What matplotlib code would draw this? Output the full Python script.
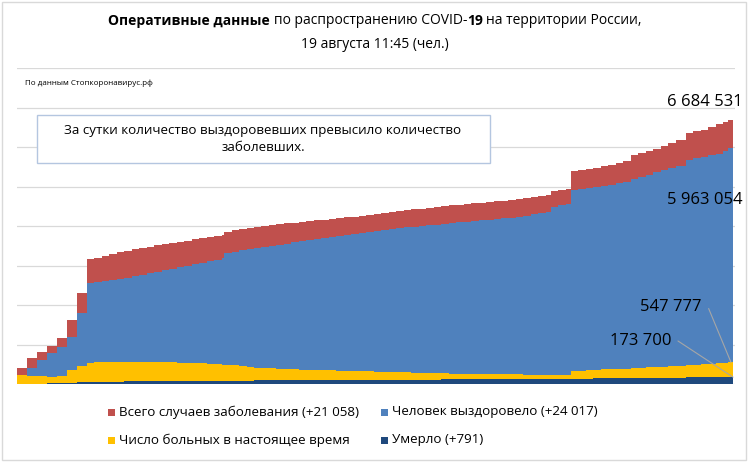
import matplotlib
matplotlib.use('Agg')
import matplotlib.pyplot as plt
from matplotlib.patches import Rectangle
import numpy as np

plt.rcParams['font.family'] = ['Open Sans', 'DejaVu Sans']

# ---------------- data (thousands of people) ----------------
days = [0, 4, 8, 12, 16, 20, 24,
        28, 31, 34, 37, 40, 43, 46, 49, 52, 55, 58, 61, 64, 67, 70, 73, 76, 79, 82,
        83, 86, 89, 92, 95, 98, 101, 104, 107, 110,
        113, 116, 119, 122, 125, 128, 131, 134, 137, 140,
        143, 146, 149, 152, 155, 158, 161, 164, 167, 170,
        173, 176, 179, 182, 185, 188, 191, 194, 197, 200,
        203, 206, 209, 212,
        214, 217, 220, 222, 225, 228, 231, 234, 237, 240, 243, 246, 249, 252,
        255, 258, 261, 264, 268, 271, 274, 277, 280, 283, 285]
end_day = 287

total = [400, 650, 820, 970, 1170, 1620, 2300,
         3160, 3200, 3250, 3290, 3330, 3370, 3410, 3445, 3480, 3510, 3540, 3565,
         3590, 3625, 3660, 3690, 3720, 3750, 3770,
         3860, 3890, 3935, 3960, 3985, 4005, 4025, 4045, 4065, 4085,
         4100, 4120, 4140, 4160, 4180, 4200, 4220, 4240, 4265, 4290,
         4315, 4340, 4360, 4385, 4400, 4420, 4440, 4460, 4480, 4500,
         4525, 4540, 4560, 4575, 4590, 4610, 4625, 4645, 4665, 4685,
         4705, 4730, 4755, 4780,
         4880, 4905, 4930, 5380, 5410, 5440, 5475, 5510, 5550, 5600, 5650, 5800,
         5850, 5900, 5950, 6020, 6090, 6180, 6360, 6400, 6440, 6510, 6580, 6640,
         6684.531]

recovered = [150, 410, 620, 780, 940, 1200, 1790,
             2550, 2580, 2610, 2635, 2660, 2695, 2730, 2765, 2800, 2840, 2880,
             2915, 2950, 2990, 3030, 3070, 3110, 3140, 3180,
             3310, 3340, 3385, 3410, 3440, 3470, 3500, 3530, 3555, 3585,
             3610, 3640, 3665, 3695, 3720, 3745, 3775, 3800, 3825, 3850,
             3875, 3900, 3925, 3950, 3970, 3985, 4000, 4020, 4035, 4055,
             4070, 4090, 4105, 4125, 4140, 4160, 4175, 4195, 4215, 4240,
             4265, 4295, 4325, 4360,
             4490, 4530, 4560, 4910, 4935, 4960, 4985, 5010, 5045, 5080, 5120,
             5180, 5240, 5300, 5360, 5410, 5465, 5520, 5670, 5710, 5750, 5790,
             5830, 5890, 5963.054]

active = [230, 200, 190, 170, 190, 350, 460,
          540, 545, 550, 552, 555, 555, 555, 555, 555, 553, 550, 545, 540, 535,
          530, 520, 510, 500, 490,
          485, 470, 450, 430, 415, 405, 395, 385, 378, 372,
          367, 360, 355, 350, 345, 340, 335, 330, 325, 320,
          315, 310, 305, 300, 295, 290, 285, 280, 275, 270,
          265, 262, 260, 258, 255, 253, 250, 248, 245, 243,
          240, 237, 235, 232,
          230, 229, 228, 330, 340, 350, 360, 370, 378, 385, 392, 400, 410, 420,
          430, 440, 450, 460, 480, 490, 500, 510, 520, 530, 547.777]

deaths = [5, 8, 10, 14, 18, 25, 40,
          57, 58, 60, 61, 63, 64, 66, 67, 69, 70, 72, 73, 75, 76, 78, 79, 81, 82, 84,
          85, 86, 87, 88, 89, 90, 91, 92, 93, 94,
          95, 96, 97, 98, 99, 100, 101, 102, 103, 104,
          105, 106, 107, 108, 109, 110, 111, 112, 113, 114,
          115, 116, 117, 118, 119, 120, 121, 122, 123, 124,
          126, 127, 128, 130,
          131, 132, 133, 136, 137, 139, 140, 142, 144, 146, 148, 150, 152, 154,
          156, 158, 160, 162, 165, 166.5, 168, 169.5, 171, 172.5, 173.7]

series_names = ["Всего случаев заболевания (+21 058)",
                "Человек выздоровело (+24 017)",
                "Число больных в настоящее время",
                "Умерло (+791)"]
colors = ["#C0504D", "#4F81BD", "#FFC000", "#1F497D"]

title_line1 = [("Оперативные данные", True), (" ", False),
               ("по распространению COVID-", False), ("19", True), (" ", False),
               ("на территории России,", False)]
title_line2 = "19 августа 11:45 (чел.)"
source_text = "По данным Стопкоронавирус.рф"
note_text = "За сутки количество выздоровевших превысило количество\nзаболевших."

# ---------------- figure ----------------
W, H = 750, 463
fig = plt.figure(figsize=(W / 100, H / 100), dpi=100)
fig.patch.set_facecolor('white')


def fx(x):
    return x / W


def fy(y):
    return 1 - y / H


# outer border
fig.patches.append(Rectangle((fx(2), fy(460)), fx(744), (458) / H,
                             transform=fig.transFigure, fill=False,
                             edgecolor='#d9d9d9', lw=1))

ax = fig.add_axes([fx(17), fy(384), (735 - 17) / W, (384 - 68) / H])
edges = np.append(days, end_day)
for vals, col in zip([total, recovered, active, deaths], colors):
    ax.stairs(vals, edges, fill=True, color=col, baseline=0, lw=0)
ax.set_xlim(0, end_day * 718 / 716)
ax.set_ylim(0, 8000)
ax.set_yticks(np.arange(0, 8001, 1000))
ax.set_xticks([])
ax.yaxis.grid(True, color='#d9d9d9', lw=0.9)
ax.set_axisbelow(True)
ax.tick_params(left=False, labelleft=False)
for s in ax.spines.values():
    s.set_visible(False)

renderer = fig.canvas.get_renderer()


def rich_center(pieces, xc, y, size):
    objs, widths = [], []
    probe_a = fig.text(0, 0, "x x", fontsize=size)
    probe_b = fig.text(0, 0, "xx", fontsize=size)
    space_w = (probe_a.get_window_extent(renderer).width
               - probe_b.get_window_extent(renderer).width)
    probe_a.remove()
    probe_b.remove()
    for txt, bold in pieces:
        if txt == " ":
            objs.append(None)
            widths.append(space_w)
            continue
        t = fig.text(0, fy(y), txt, fontsize=size,
                     fontweight='bold' if bold else 'normal',
                     va='center', ha='left', color='#000000')
        widths.append(t.get_window_extent(renderer).width)
        objs.append(t)
    x = xc - sum(widths) / 2
    for t, w in zip(objs, widths):
        if t is not None:
            t.set_x(fx(x))
        x += w


rich_center(title_line1, 375, 21, 10)
fig.text(fx(375), fy(44), title_line2, fontsize=10, ha='center', va='center')

fig.text(fx(25), fy(83), source_text, fontsize=5.8, ha='left', va='center')

# note box
fig.patches.append(Rectangle((fx(37), fy(163)), (490 - 37) / W, (163 - 115) / H,
                             transform=fig.transFigure, facecolor='white',
                             edgecolor='#b4c6e0', lw=1, zorder=5))
fig.text(fx(263), fy(139), note_text, fontsize=9.6, ha='center', va='center',
         linespacing=1.35, zorder=6)


def fmt(v):
    return f"{int(round(v * 1000)):,}".replace(",", " ")


fig.text(fx(743), fy(102), fmt(total[-1]), fontsize=12, ha='right', va='center')
fig.text(fx(743), fy(200), fmt(recovered[-1]), fontsize=12, ha='right', va='center')

ann_kw = dict(xycoords='data', textcoords='figure fraction', fontsize=12,
              ha='right', va='center')
ax.annotate(fmt(active[-1]), xy=(end_day - 0.8, active[-1]), xytext=(fx(702), fy(307)),
            arrowprops=dict(arrowstyle='-', color='#a6a6a6', lw=0.8, shrinkA=3,
                            shrinkB=0, relpos=(1, 0.5),
                            connectionstyle='arc,angleA=0,armA=6,angleB=0,armB=0,rad=0'),
            annotation_clip=False, **ann_kw)
ax.annotate(fmt(deaths[-1]), xy=(end_day, deaths[-1]), xytext=(fx(671), fy(341)),
            arrowprops=dict(arrowstyle='-', color='#a6a6a6', lw=0.8, shrinkA=3,
                            shrinkB=0, relpos=(1, 0.5),
                            connectionstyle='arc,angleA=0,armA=7,angleB=0,armB=0,rad=0'),
            annotation_clip=False, **ann_kw)

# legend
leg_pos = [(108, 412), (381, 412), (108, 440), (381, 440)]
for name, col, (lx, ly) in zip(series_names, colors, leg_pos):
    fig.patches.append(Rectangle((fx(lx), fy(ly + 3.5)), 7 / W, 7 / H,
                                 transform=fig.transFigure, facecolor=col,
                                 edgecolor='none'))
    fig.text(fx(lx + 11), fy(ly), name, fontsize=9.6, ha='left', va='center')

fig.savefig('out.png', dpi=100, facecolor='white')
